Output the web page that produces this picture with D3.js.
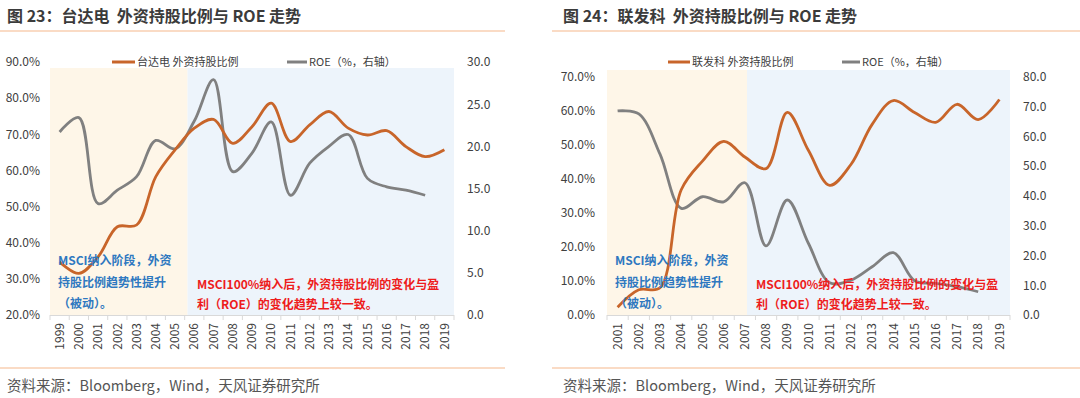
<!DOCTYPE html>
<html>
<head>
<meta charset="utf-8">
<script src="https://cdn.jsdelivr.net/npm/d3@7/dist/d3.min.js"></script>
<style>
  body { margin: 0; background: #fff; }
  svg { display: block; font-family: "Noto Sans CJK SC", "Noto Sans", sans-serif; }
  text { white-space: pre; }
</style>
</head>
<body>
<svg id="chart" width="1080" height="398"></svg>
<script>
(function() {
  var svg, drawChart;

  // 图23 台达电
  var years23 = ['1999', '2000', '2001', '2002', '2003', '2004', '2005', '2006', '2007', '2008', '2009',
    '2010', '2011', '2012', '2013', '2014', '2015', '2016', '2017', '2018', '2019'];
  var holding23 = [34.7, 31.5, 36.1, 44.4, 44.9, 58.3, 65.7, 71.7, 74.1, 67.5, 72.1,
    78.6, 68.0, 72.6, 76.3, 71.7, 69.8, 71.0, 66.6, 63.8, 65.7];
  var roe23 = [21.7, 23.4, 13.2, 14.8, 16.4, 20.7, 19.7, 23.0, 27.9, 17.0, 19.2,
    22.9, 14.2, 18.0, 20.0, 21.4, 16.2, 15.2, 14.8, 14.2, null];
  var leftTicks23 = [20, 30, 40, 50, 60, 70, 80, 90];
  var rightTicks23 = [0, 5, 10, 15, 20, 25, 30];

  // 图24 联发科
  var years24 = ['2001', '2002', '2003', '2004', '2005', '2006', '2007', '2008', '2009', '2010',
    '2011', '2012', '2013', '2014', '2015', '2016', '2017', '2018', '2019'];
  var holding24 = [2.3, 7.4, 8.0, 36.8, 45.2, 51.0, 46.4, 43.0, 59.5, 48.3,
    38.1, 44.2, 56.0, 63.0, 59.5, 56.6, 61.9, 57.4, 63.3];
  var roe24 = [68.5, 67.5, 54.0, 35.8, 39.7, 38.0, 44.4, 23.2, 38.6, 24.0,
    10.8, 11.7, 16.2, 20.9, 11.5, 10.6, 9.5, 7.8, null];
  var leftTicks24 = [0, 10, 20, 30, 40, 50, 60, 70];
  var rightTicks24 = [0, 10, 20, 30, 40, 50, 60, 70, 80];

  var orange = '#c8652a', grey = '#808080', rule = '#f5b88c';

  svg = d3.select('#chart');

  drawChart = function(opt) {
    var g, x, yL, yR, cx, split, line, texts;
    g = svg.append('g');

    x = d3.scaleBand().domain(opt.years).range([opt.left, opt.right]).padding(0);
    yL = d3.scaleLinear().domain(opt.leftDomain).range([opt.bottom, opt.top]);
    yR = d3.scaleLinear().domain(opt.rightDomain).range([opt.bottom, opt.top]);
    cx = function(d) { return x(d) + x.bandwidth() / 2; };

    // title + rules
    g.append('text').attr('x', opt.ox + 7).attr('y', 22)
      .attr('font-size', 16).attr('font-weight', 'bold').attr('fill', '#3b3b3b')
      .text(opt.title);
    g.append('line').attr('x1', opt.ruleX[0]).attr('x2', opt.ruleX[1]).attr('y1', 31).attr('y2', 31)
      .attr('stroke', rule).attr('stroke-width', 1.2);
    g.append('line').attr('x1', opt.ruleX[0]).attr('x2', opt.ruleX[1]).attr('y1', 368).attr('y2', 368)
      .attr('stroke', rule).attr('stroke-width', 1.2);
    g.append('text').attr('x', opt.ox + 7).attr('y', 391)
      .attr('font-size', 14.5).attr('fill', '#555')
      .text('资料来源：Bloomberg，Wind，天风证券研究所');

    // phase shading
    split = x(opt.split) + x.bandwidth() * opt.splitFrac;
    g.append('rect').attr('x', opt.left).attr('y', opt.shadeTop)
      .attr('width', split - opt.left).attr('height', opt.bottom - opt.shadeTop)
      .attr('fill', '#fef6e8');
    g.append('rect').attr('x', split).attr('y', opt.shadeTop)
      .attr('width', opt.right - split).attr('height', opt.bottom - opt.shadeTop)
      .attr('fill', '#edf4fb');

    // y axes
    g.append('g').attr('transform', 'translate(' + opt.leftLabelX + ',0)')
      .call(d3.axisLeft(yL).tickValues(opt.leftTicks).tickSize(0).tickPadding(0)
        .tickFormat(function(d) { return d.toFixed(1) + '%'; }))
      .call(function(a) {
        a.select('.domain').remove();
        a.selectAll('text').attr('font-size', 12).attr('fill', '#404040')
          .attr('font-family', '"Noto Sans CJK SC", sans-serif');
      });
    g.append('g').attr('transform', 'translate(' + opt.rightLabelX + ',0)')
      .call(d3.axisRight(yR).tickValues(opt.rightTicks).tickSize(0).tickPadding(0)
        .tickFormat(function(d) { return d.toFixed(1); }))
      .call(function(a) {
        a.select('.domain').remove();
        a.selectAll('text').attr('font-size', 12).attr('fill', '#404040')
          .attr('font-family', '"Noto Sans CJK SC", sans-serif');
      });

    // x axis
    g.append('line').attr('x1', opt.left).attr('x2', opt.right)
      .attr('y1', opt.bottom + 0.5).attr('y2', opt.bottom + 0.5)
      .attr('stroke', '#d9d9d9');
    g.selectAll('line.tk').data(opt.years.concat(['end'])).enter().append('line')
      .attr('class', 'tk')
      .attr('x1', function(d) { return d === 'end' ? opt.right : x(d); })
      .attr('x2', function(d) { return d === 'end' ? opt.right : x(d); })
      .attr('y1', opt.bottom).attr('y2', opt.bottom + 5)
      .attr('stroke', '#d9d9d9');
    g.append('g').attr('transform', 'translate(0,' + opt.bottom + ')')
      .call(d3.axisBottom(x).tickSize(0))
      .call(function(a) {
        a.select('.domain').remove();
        a.selectAll('text')
          .attr('transform', 'rotate(-90)').attr('text-anchor', 'end')
          .attr('x', -8).attr('y', 0).attr('dy', '0.35em')
          .attr('font-size', 12).attr('fill', '#404040')
          .attr('font-family', '"Noto Sans CJK SC", sans-serif');
      });

    // lines
    line = function(vals, y) {
      return d3.line()
        .defined(function(d, i) { return vals[i] != null; })
        .x(function(d) { return cx(d); })
        .y(function(d, i) { return y(vals[i]); })
        .curve(d3.curveCatmullRom)(opt.years);
    };
    g.append('path').attr('d', line(opt.roe, yR)).attr('fill', 'none')
      .attr('stroke', grey).attr('stroke-width', 2.8).attr('stroke-linejoin', 'round');
    g.append('path').attr('d', line(opt.holding, yL)).attr('fill', 'none')
      .attr('stroke', orange).attr('stroke-width', 2.8).attr('stroke-linejoin', 'round');

    // legend
    opt.legend.forEach(function(l) {
      g.append('line').attr('x1', l.x).attr('x2', l.x + l.w).attr('y1', 62).attr('y2', 62)
        .attr('stroke', l.color).attr('stroke-width', 3);
      g.append('text').attr('x', l.x + l.w + 2).attr('y', 66)
        .attr('font-size', 11).attr('fill', '#404040').text(l.label);
    });

    // notes
    texts = g.append('g').attr('font-size', 12).attr('font-weight', 'bold');
    opt.blueNote.forEach(function(t, i) {
      texts.append('text').attr('x', opt.blueX).attr('y', 265 + i * 21.5)
        .attr('fill', '#2e78c0').text(t);
    });
    opt.redNote.forEach(function(t, i) {
      texts.append('text').attr('x', opt.redX).attr('y', 289 + i * 20)
        .attr('fill', '#ee1c1c').text(t);
    });
  };

  drawChart({
    title: '图 23：台达电  外资持股比例与 ROE 走势',
    ox: 0, ruleX: [0, 505],
    years: years23, holding: holding23, roe: roe23,
    leftTicks: leftTicks23, rightTicks: rightTicks23,
    leftDomain: [20, 90], rightDomain: [0, 30],
    left: 50, right: 454, top: 62, bottom: 315, shadeTop: 68,
    split: '2006', splitFrac: 0.15,
    leftLabelX: 40, rightLabelX: 467,
    legend: [
      {x: 112, w: 23, color: orange, label: '台达电 外资持股比例'},
      {x: 287, w: 20, color: grey, label: 'ROE（%，右轴）'}
    ],
    blueX: 58, redX: 197,
    blueNote: ['MSCI纳入阶段，外资', '持股比例趋势性提升', '（被动）。'],
    redNote: ['MSCI100%纳入后，外资持股比例的变化与盈', '利（ROE）的变化趋势上较一致。']
  });

  drawChart({
    title: '图 24：联发科  外资持股比例与 ROE 走势',
    ox: 556, ruleX: [552, 1080],
    years: years24, holding: holding24, roe: roe24,
    leftTicks: leftTicks24, rightTicks: rightTicks24,
    leftDomain: [0, 70], rightDomain: [0, 80],
    left: 607, right: 1010, top: 76.7, bottom: 315, shadeTop: 70,
    split: '2007', splitFrac: 0.6,
    leftLabelX: 595, rightLabelX: 1023,
    legend: [
      {x: 668, w: 22, color: orange, label: '联发科 外资持股比例'},
      {x: 842, w: 18, color: grey, label: 'ROE（%，右轴）'}
    ],
    blueX: 615, redX: 756,
    blueNote: ['MSCI纳入阶段，外资', '持股比例趋势性提升', '（被动）。'],
    redNote: ['MSCI100%纳入后，外资持股比例的变化与盈', '利（ROE）的变化趋势上较一致。']
  });
}).call(this);
</script>
</body>
</html>
